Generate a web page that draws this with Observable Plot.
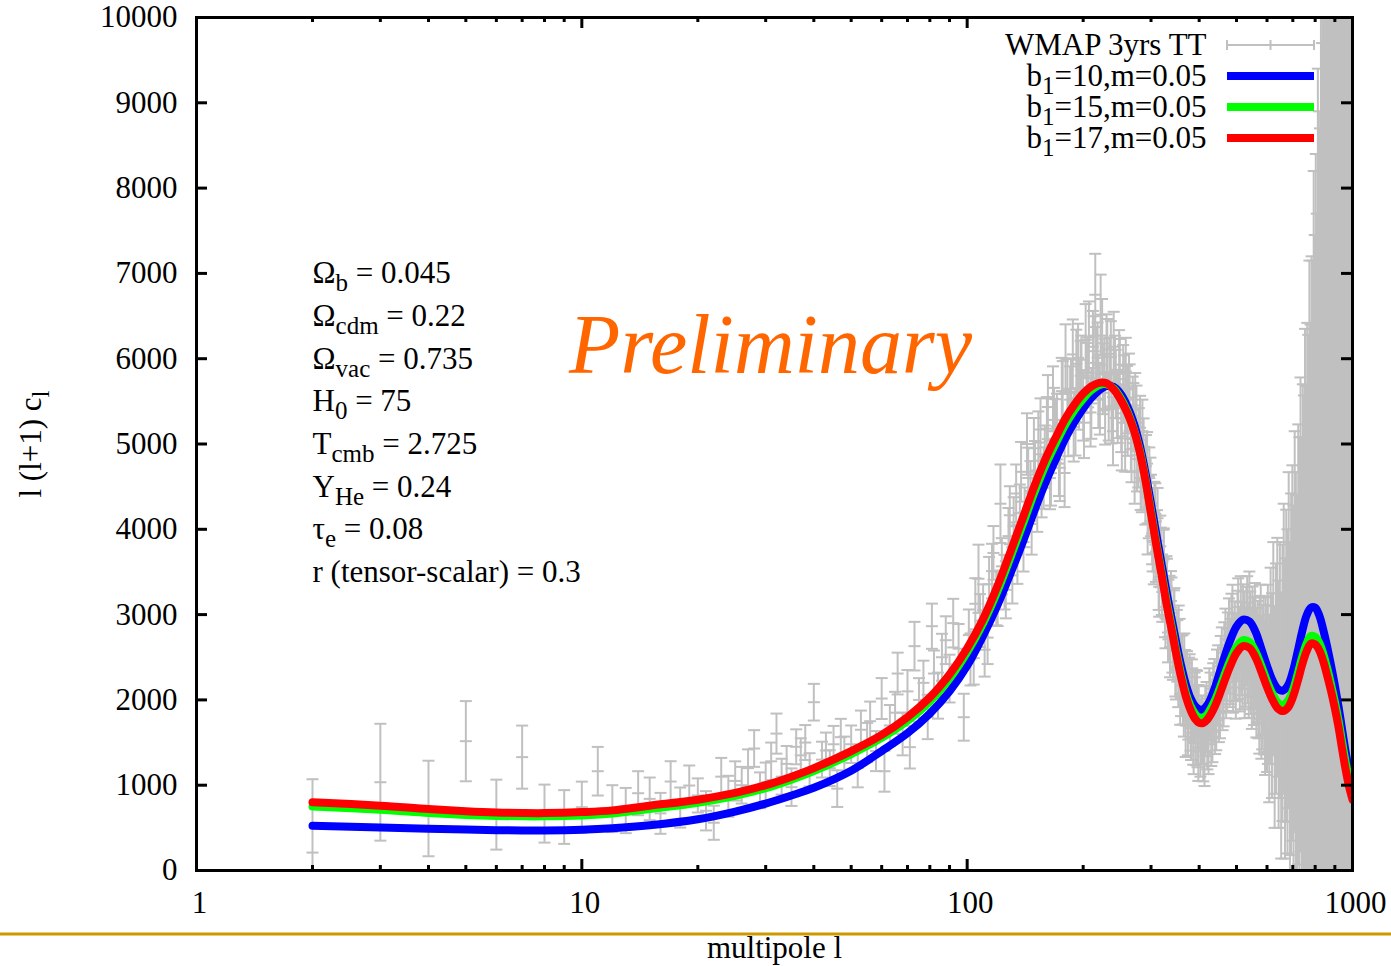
<!DOCTYPE html>
<html><head><meta charset="utf-8">
<script src="https://cdn.jsdelivr.net/npm/d3@7"></script>
<script src="https://cdn.jsdelivr.net/npm/@observablehq/plot@0.6"></script>
<style>html,body{margin:0;padding:0;background:#fff;overflow:hidden}</style>
</head><body><div id="chart"></div>
<script>
// ---------- theory curves ----------
const theoryL = [2,3,4,5,6,7,8,10,12,15,20,25,30,35,40,50,60,70,80,90,100,110,120,130,140,150,160,170,180,190,200,210,220,230,240,250,260,270,280,290,300,310,320,330,340,350,360,370,380,390,400,410,420,430,440,450,460,480,500,520,540,560,580,600,620,640,660,680,700,720,740,760,780,800,820,840,860,880,900,920,940,960,980,1000];
const blueV = [525,505,490,480,473,470,470,478,495,530,600,690,785,880,970,1170,1400,1610,1840,2100,2400,2752,3116,3500,3872,4238,4557,4827,5072,5261,5418,5540,5630,5680,5670,5590,5450,5260,5000,4670,4300,3930,3580,3240,2930,2640,2380,2170,2020,1930,1890,1890,1940,2030,2150,2290,2430,2680,2860,2940,2920,2800,2600,2400,2230,2130,2110,2170,2330,2560,2800,2990,3080,3080,2990,2820,2620,2400,2170,1920,1650,1390,1170,1000];
const greenV = [750,712,675,652,640,635,635,646,667,720,795,875,965,1065,1165,1365,1555,1755,1980,2250,2560,2900,3280,3690,4080,4450,4760,5010,5230,5400,5530,5630,5690,5700,5650,5540,5390,5190,4940,4600,4210,3830,3480,3140,2840,2540,2280,2070,1930,1840,1790,1790,1830,1910,2000,2110,2230,2450,2620,2700,2680,2570,2400,2220,2070,1970,1940,1990,2110,2300,2500,2660,2750,2740,2670,2540,2370,2180,1980,1760,1510,1270,1070,900];
const redV = [800,760,720,695,680,674,673,685,705,760,830,910,1000,1100,1200,1400,1590,1798,2029,2299,2605,2949,3341,3757,4153,4525,4833,5083,5303,5465,5591,5676,5717,5712,5640,5520,5370,5180,4920,4580,4180,3800,3450,3100,2800,2500,2240,2030,1880,1780,1730,1730,1770,1840,1930,2040,2160,2380,2550,2630,2610,2500,2330,2150,2000,1900,1870,1910,2030,2210,2410,2570,2660,2650,2580,2450,2280,2100,1900,1680,1420,1180,980,830];

// ---------- WMAP 3yr TT points (l, value, error) ----------
const wmapLowL = [2,3,4,5,6,7,8,9,10,11,12,13,14,15,16,17,18,19,20,21,22,23,24,25,26,27,28,29,30,31,32,33,34,35,36,37,38,39,40,42,43,44,45,46,47,48,50,52,53,55,56,58,60,61,63,65,66,68,70,71,73,75,77,79,81,82,84,86,88,90,92,95,98];
const wmapLowV = [210,1035,727,1516,655,1329,667,627,742,1164,725,703,906,840,670,1043,738,996,880,700,560,1100,870,1050,1000,1200,1430,940,1035,1280,1605,1100,1250,977,1450,1350,1500,1180,1973,1300,1407,1200,1480,960,1563,1350,1480,1200,1650,1500,1750,1400,2016,1164,1700,1850,2309,1600,2100,1446,2630,2000,2200,1800,2864,2309,2050,2500,2700,2250,2900,2600,1797];
const wmapLowE = [860,685,560,470,410,370,340,315,300,285,275,265,258,250,240,238,235,235,200,230,200,220,240,230,215,220,215,210,230,220,235,210,210,220,205,200,205,195,215,210,210,210,215,215,215,220,220,225,225,230,230,235,240,240,240,245,245,250,250,250,285,255,260,260,265,270,270,275,280,280,285,290,275];

const wmapPeakL = [101,104,107,110,113,116,119,122,125,128,131,134,137,140,143,146,149,152,155,158,161,164,167,170,173,176,179,182,185,188,191,194,197,200,203,206,209,212,215,218,221,224,227,230,233,236,239,242,245,248,251,254,257,260,263,266,269,272,275,278,281,284,287,290,293,296,299,302,305,308,311,314,317,320,323,326,329,332,335,338,341,344,347,350,353,356,359,362,365,368,371,374,377,380,383,386,389,392,395,398];
const wmapPeakV = [2760,2490,3420,3050,2730,3510,3190,4300,3380,3920,3460,4420,4190,3850,5000,4450,4950,4330,5170,4600,5180,4600,5530,5150,4770,5620,4660,5610,5520,6050,5260,6010,5800,5440,6220,5840,5370,6140,6750,6010,5520,6270,5815,6110,5440,6020,5150,5860,5470,5930,5300,5760,5065,5520,5660,5060,5400,4680,5300,4870,5190,4580,4930,4430,4770,4260,4470,3950,3720,4180,3865,3410,3800,3350,3645,3090,3335,2790,3100,3160,2670,2930,2390,2700,2270,2590,2170,2400,1935,2220,2065,1720,2125,1780,2100,1620,1940,1620,1955,1440];
const wmapPeakE = [300,310,400,305,310,320,315,460,320,330,330,340,335,345,360,350,355,360,365,360,370,365,380,375,380,390,400,385,390,410,395,400,410,400,420,410,400,420,480,415,410,430,420,410,400,420,400,410,400,405,395,400,390,395,400,385,390,380,385,380,375,380,370,375,370,365,370,360,365,360,360,355,360,355,350,355,350,350,355,350,350,355,350,355,355,360,360,360,365,365,365,370,370,375,375,380,380,385,385,390];

const wmapPeak2L = [102,105,108,111,114,117,120,123,126,129,132,135,138,141,144,147,150,153,156,159,162,165,168,171,174,177,180,183,186,189,192,195,198,201,204,207,210,213,216,219,222,225,228,231,234,237,240,243,246,249,252,255,258,261,264,267,270,273,276,279,282,285,288,291,294,297,300,303,306,309,312,315,318,321,324,327,330,333,336,339,342,345,348,351,354,357,360,363,366,369,372,375,378,381,384,387,390,393,396,399];
const wmapPeak2V = [2474,3127,2930,2588,3356,3723,3191,3566,3291,4165,4036,3705,4674,4140,4602,4063,4675,5017,4510,4852,5433,4658,5283,5205,4721,5587,6003,5252,5600,5199,5940,5578,5866,5250,5775,6251,5476,6088,5951,5613,6516,5765,5413,6055,5833,5412,6140,5704,5418,5832,5090,5645,5850,5251,5544,4937,5330,5452,4824,5046,4602,5150,4598,4740,4070,4600,4280,3866,4202,3738,4130,3325,3670,3265,3660,2955,3300,3060,2620,3080,2590,2950,2360,2574,2746,2068,2390,2077,2414,1701,2200,1905,2160,1670,1990,1510,1880,1965,1600,1785];
const wmapPeak2E = [305,300,310,315,320,315,325,330,335,340,340,345,350,350,355,360,360,365,370,365,375,380,375,385,390,385,400,395,400,405,400,410,405,415,410,420,415,410,420,425,470,415,420,410,415,405,410,400,405,400,400,395,395,390,390,385,385,380,380,375,375,370,370,365,365,360,360,360,355,355,355,350,350,350,350,350,355,350,355,355,355,360,355,360,360,360,365,365,365,370,370,370,375,375,380,380,385,385,390,390];

const wmapMidL = [403,408,413,418,423,428,433,438,443,448,453,458,463,468,473,478,483,488,493,498,503,508,513,518,523,528,533,538,543,548,553,558,563,568,573,578,583,588,593,598];
const wmapMidV = [1500,1650,1400,1800,1550,1900,1700,2050,1850,2200,2000,2400,2150,2600,2350,2700,2450,2850,2500,2300,2750,2550,2900,2450,2700,2500,2850,2400,2650,2300,2550,2700,2250,2450,2100,2600,2200,2400,1950,2250];
const wmapMidE = [400,400,410,410,420,420,430,430,440,440,450,450,460,470,480,490,500,500,510,520,530,540,550,560,570,580,600,610,620,640,650,670,690,710,730,750,780,800,830,860];

const wmapMid2L = [405,410,415,420,425,430,435,440,445,450,455,460,465,470,475,480,485,490,495,500,505,510,515,520,525,530,535,540,545,550,555,560,565,570,575,580,585,590,595,600];
const wmapMid2V = [1650,1450,1750,1600,1950,1650,2000,1800,2150,1950,2300,2100,2450,2250,2550,2400,2750,2350,2650,2500,2900,2400,2600,2800,2350,2750,2550,2900,2450,2700,2350,2550,2400,2250,2500,2050,2350,2150,2400,2000];
const wmapMid2E = [400,405,410,415,420,425,430,435,440,445,450,455,460,465,475,485,495,500,505,515,525,535,545,555,565,575,590,605,615,630,645,660,680,700,720,740,765,790,815,845];

const wmapHighL = [603,608,613,618,623,628,633,638,643,648,653,658,663,668,673,678,683,688,693,698,703,708,713,718,723,728,733,738,743,748,753,758,763,768,773,778,783,788,793,798,803,808,813,818,823,828,833,838,843,848,853,858,863,868,873,878,883,888,893,898,903,908,913,918,923,928,933,938,943,948,953,958,963,968,973,978,983,988,993,998];
const wmapHighV = [2300,1900,2400,2050,2600,1800,2250,2500,1950,2350,1700,2200,2600,1900,2400,2100,2700,1800,2300,2550,2000,2800,2250,1900,2650,2400,3000,2200,2700,2450,3100,2300,2900,2600,3300,2400,3000,2700,3500,2500,3200,2200,3600,2800,2300,3400,2700,3900,2500,3100,2000,3700,2900,2300,4000,2600,3300,2100,3800,2800,3500,2400,4200,3000,2200,3600,2900,4500,2500,3300,2000,4000,3100,2600,4400,3000,2300,3800,2700,3400];
const wmapHighE = [1050,1100,1150,1200,1250,1300,1350,1400,1450,1500,1560,1620,1700,1760,1830,1900,1970,2050,2120,2200,2280,2350,2420,2500,2580,2680,2780,2880,3000,3120,3250,3380,3520,3680,3850,4000,4200,4450,4700,4950,5200,5500,5800,6100,6400,6700,7000,7300,7650,8000,8350,8700,9050,9400,9800,10200,10600,11000,11400,11800,12200,12600,13000,13400,13800,14200,14600,15000,15400,15800,16200,16600,17000,17400,17800,18200,18600,19000,19400,19800];

// ---------- ticks & texts ----------
const xTickValues = [1, 10, 100, 1000];
const xTickLabels = ["1", "10", "100", "1000"];
const xMinorMult = [2,3,4,5,6,7,8,9];
const yTickValues = [0,1000,2000,3000,4000,5000,6000,7000,8000,9000,10000];
const paramLabels = ["Ω_{b} = 0.045","Ω_{cdm} = 0.22","Ω_{vac} = 0.735","H_{0} = 75","T_{cmb} = 2.725","Y_{He} = 0.24","τ_{e} = 0.08","r (tensor-scalar) = 0.3"];
const paramY = [7000,6500,6000,5500,5000,4500,4000,3500];
const paramX = 2;
const legendLabels = ["WMAP 3yrs TT","b_{1}=10,m=0.05","b_{1}=15,m=0.05","b_{1}=17,m=0.05"];
const legendColors = ["#c0c0c0","#0000ff","#00ff00","#ff0000"];
const seriesColors = ["#0000ff","#00ff00","#ff0000"];
const xLabel = "multipole l";
const yLabel = "l (l+1) c_{l}";
const watermark = "Preliminary";

// ---------- layout ----------
const W = 1391, H = 966, mL = 196, mR = 39, mT = 17, mB = 96;
const plotH = H - mT - mB, plotW = W - mL - mR;
const gray = "#c0c0c0";

const mk = (L, V, E) => L.map((l, i) => ({l, v: V[i], lo: V[i] - E[i], hi: V[i] + E[i]}));
const wmap = [].concat(
  mk(wmapLowL, wmapLowV, wmapLowE),
  mk(wmapPeakL, wmapPeakV, wmapPeakE),
  mk(wmapPeak2L, wmapPeak2V, wmapPeak2E),
  mk(wmapMidL, wmapMidV, wmapMidE),
  mk(wmapMid2L, wmapMid2V, wmapMid2E),
  mk(wmapHighL, wmapHighV, wmapHighE));
const curves = [blueV, greenV, redV].map(V => theoryL.map((l, i) => ({l, v: V[i]})));
const xMinor = [1, 10, 100].flatMap(d => xMinorMult.map(m => m * d));
const xMajorInner = xTickValues.slice(1, -1);

const hbar = {draw(ctx, size) { const r = Math.sqrt(size / Math.PI); ctx.moveTo(-r, 0); ctx.lineTo(r, 0); }};
const capOpts = {x: "l", symbol: hbar, r: 6, stroke: gray, strokeWidth: 2, fill: "none", clip: true};

const marks = [
  Plot.ruleX(wmap, {x: "l", y1: "lo", y2: "hi", stroke: gray, strokeWidth: 2, clip: true}),
  Plot.dot(wmap, {...capOpts, y: "hi"}),
  Plot.dot(wmap, {...capOpts, y: "lo"}),
  Plot.dot(wmap, {...capOpts, y: "v"}),
  ...curves.map((c, i) => Plot.line(c, {x: "l", y: "v", stroke: seriesColors[i], strokeWidth: 8, curve: "catmull-rom", clip: true})),
  Plot.frame({stroke: "black", strokeWidth: 3}),
  Plot.tickX(xMajorInner, {x: d => d, insetTop: plotH - 11, stroke: "black", strokeWidth: 3}),
  Plot.tickX(xMajorInner, {x: d => d, insetBottom: plotH - 11, stroke: "black", strokeWidth: 3}),
  Plot.tickX(xMinor, {x: d => d, insetTop: plotH - 5, stroke: "black", strokeWidth: 3}),
  Plot.tickX(xMinor, {x: d => d, insetBottom: plotH - 5, stroke: "black", strokeWidth: 3}),
  Plot.tickY(yTickValues.slice(1, -1), {y: d => d, insetRight: plotW - 11, stroke: "black", strokeWidth: 3}),
  Plot.tickY(yTickValues.slice(1, -1), {y: d => d, insetLeft: plotW - 11, stroke: "black", strokeWidth: 3}),
  Plot.axisX({ticks: xTickValues, tickFormat: d => xTickLabels[xTickValues.indexOf(d)], tickSize: 0, tickPadding: 20, dx: 3, label: null}),
  Plot.axisY({ticks: yTickValues, tickFormat: d => String(d), tickSize: 0, tickPadding: 19, label: null}),
  Plot.text(paramLabels, {x: () => paramX, y: (d, i) => paramY[i], text: d => d, textAnchor: "start", lineAnchor: "middle"}),
  Plot.text([watermark], {frameAnchor: "top-left", dx: 574, dy: 329, text: d => d, textAnchor: "middle", lineAnchor: "middle", fontSize: 84, fontStyle: "italic", fill: "#ff6600"}),
  Plot.text([xLabel], {frameAnchor: "bottom", dy: 78, text: d => d, lineAnchor: "middle"}),
  Plot.text([yLabel], {frameAnchor: "left", dx: -165, rotate: -90, text: d => d, textAnchor: "middle", lineAnchor: "middle"}),
  ...legendLabels.map((t, i) => Plot.text([t], {frameAnchor: "top-right", dx: -146, dy: 28 + 31 * i, text: d => d, textAnchor: "end", lineAnchor: "middle"}))
];

const svg = Plot.plot({
  width: W, height: H,
  marginLeft: mL, marginRight: mR, marginTop: mT, marginBottom: mB,
  x: {type: "log", domain: [1, 1000]},
  y: {domain: [0, 10000]},
  style: {fontFamily: "'Liberation Serif', 'Times New Roman', serif", fontSize: "31px", background: "white", color: "black"},
  marks
});

// subscripts
const NS = "http://www.w3.org/2000/svg";
svg.querySelectorAll("text").forEach(t => {
  const s = t.textContent;
  if (!s.includes("_{")) return;
  const parts = s.split(/_\{([^}]*)\}/);
  while (t.firstChild) t.removeChild(t.firstChild);
  let shifted = 0;
  parts.forEach((p, i) => {
    if (p === "") return;
    const ts = document.createElementNS(NS, "tspan");
    const isSub = i % 2 === 1;
    const target = isSub ? 8 : 0;
    if (target !== shifted) { ts.setAttribute("dy", String(target - shifted)); shifted = target; }
    if (isSub) ts.setAttribute("font-size", "25px");
    ts.textContent = p;
    t.appendChild(ts);
  });
});

// legend samples and slide rule
const sel = d3.select(svg);
const lg = sel.append("g");
const sx1 = 1227, sx2 = 1314;
lg.append("line").attr("x1", sx1).attr("x2", sx2).attr("y1", 45).attr("y2", 45).attr("stroke", gray).attr("stroke-width", 2);
[sx1, (sx1 + sx2) / 2, sx2].forEach(x => lg.append("line").attr("x1", x).attr("x2", x).attr("y1", 40).attr("y2", 50).attr("stroke", gray).attr("stroke-width", 2));
legendColors.slice(1).forEach((c, i) => lg.append("line").attr("x1", sx1).attr("x2", sx2).attr("y1", 76 + 31 * i).attr("y2", 76 + 31 * i).attr("stroke", c).attr("stroke-width", 8));
sel.append("line").attr("x1", 0).attr("x2", W).attr("y1", 934).attr("y2", 934).attr("stroke", "#cc9900").attr("stroke-width", 3);

document.getElementById("chart").appendChild(svg);
</script>
</body></html>
